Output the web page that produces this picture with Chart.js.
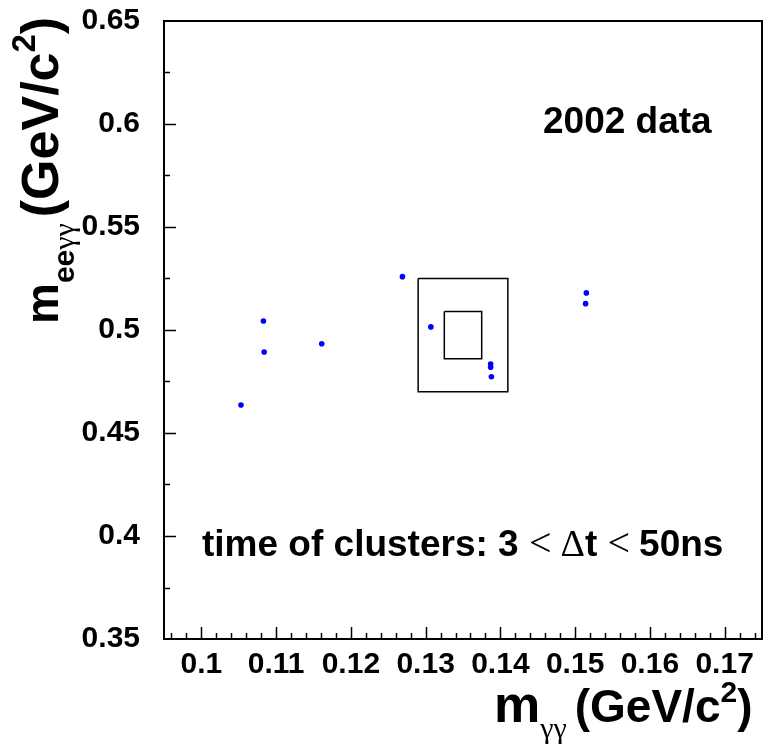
<!DOCTYPE html>
<html>
<head>
<meta charset="utf-8">
<script src="https://cdn.jsdelivr.net/npm/chart.js@4.4.0/dist/chart.umd.min.js"></script>
<style>
  html, body { margin: 0; padding: 0; background: #fff; }
</style>
</head>
<body>
<canvas id="chart" width="768" height="746"></canvas>
<script>
// Axis ticks and labels
const xTickValues = [0.10, 0.11, 0.12, 0.13, 0.14, 0.15, 0.16, 0.17];
const xTickLabels = ['0.1', '0.11', '0.12', '0.13', '0.14', '0.15', '0.16', '0.17'];
const yTickValues = [0.35, 0.40, 0.45, 0.50, 0.55, 0.60, 0.65];
const yTickLabels = ['0.35', '0.4', '0.45', '0.5', '0.55', '0.6', '0.65'];

// Candidates: m(gamma gamma) vs m(e e gamma gamma), GeV/c^2
const mGammaGamma = [0.1053, 0.1083, 0.1084, 0.1161, 0.1269, 0.1307, 0.1387, 0.1387, 0.1388, 0.1515, 0.1514];
const mEeGammaGamma = [0.4636, 0.5044, 0.4893, 0.4933, 0.5259, 0.5015, 0.4835, 0.4819, 0.4773, 0.5180, 0.5128];

// Signal box (inner) and sideband box (outer)
const outerBoxX = [0.129, 0.141, 0.141, 0.129, 0.129];
const outerBoxY = [0.525, 0.525, 0.470, 0.470, 0.525];
const innerBoxX = [0.1325, 0.1375, 0.1375, 0.1325, 0.1325];
const innerBoxY = [0.509, 0.509, 0.486, 0.486, 0.509];

const SANS = '"Liberation Sans", Arial, Helvetica, sans-serif';
const SYM = '"Liberation Serif", "Times New Roman", serif';

function zipXY(xs, ys) {
    return xs.map((x, i) => ({ x, y: ys[i] }));
}

// Draws a run of differently styled text pieces along one baseline
function drawRich(ctx, x, y, parts) {
    let cx = x;
    parts.forEach(p => {
        ctx.font = p.font;
        ctx.fillText(p.t, cx, y + (p.dy || 0));
        cx += ctx.measureText(p.t).width + (p.gap || 0);
    });
}

// ROOT-style frame, inward ticks and labels
const rootFrame = {
    id: 'rootFrame',
    afterDraw(chart) {
        const { ctx, chartArea: a, scales: { x, y } } = chart;
        ctx.save();
        ctx.strokeStyle = '#000';
        ctx.lineWidth = 2;
        ctx.strokeRect(a.left, a.top, a.right - a.left, a.bottom - a.top);

        ctx.lineWidth = 1.5;
        ctx.beginPath();
        for (let v = 0.096; v < x.max; v += 0.002) {
            const px = Math.round(x.getPixelForValue(v)) + 0.5;
            const major = Math.abs(v * 100 - Math.round(v * 100)) < 1e-6;
            ctx.moveTo(px, a.bottom);
            ctx.lineTo(px, a.bottom - (major ? 12 : 6));
        }
        for (let v = 0.375; v < y.max; v += 0.025) {
            const py = Math.round(y.getPixelForValue(v)) + 0.5;
            const major = Math.abs(v * 20 - Math.round(v * 20)) < 1e-6;
            ctx.moveTo(a.left, py);
            ctx.lineTo(a.left + (major ? 12 : 6), py);
        }
        ctx.stroke();

        ctx.fillStyle = '#000';
        ctx.textBaseline = 'alphabetic';
        ctx.textAlign = 'left';

        // x axis title
        drawRich(ctx, 494, 722, [
            { t: 'm', font: `bold 52px ${SANS}` },
            { t: 'γγ', font: `30px ${SYM}`, dy: 16, gap: 8 },
            { t: '(GeV/c', font: `bold 46px ${SANS}` },
            { t: '2', font: `bold 30px ${SANS}`, dy: -20 },
            { t: ')', font: `bold 46px ${SANS}` }
        ]);

        // y axis title
        ctx.save();
        ctx.translate(58, 324);
        ctx.rotate(-Math.PI / 2);
        drawRich(ctx, 0, 0, [
            { t: 'm', font: `bold 46px ${SANS}` },
            { t: 'ee', font: `bold 30px ${SANS}`, dy: 16 },
            { t: 'γγ', font: `30px ${SYM}`, dy: 16, gap: 6 },
            { t: '(GeV/c', font: `bold 52px ${SANS}` },
            { t: '2', font: `bold 33px ${SANS}`, dy: -23 },
            { t: ')', font: `bold 52px ${SANS}` }
        ]);
        ctx.restore();

        ctx.font = `bold 37px ${SANS}`;
        ctx.fillText('2002 data', 543, 133);

        drawRich(ctx, 202, 556, [
            { t: 'time of clusters: 3 ', font: `bold 37px ${SANS}` },
            { t: '<', font: `40px ${SYM}`, gap: 9 },
            { t: 'Δ', font: `38px ${SYM}` },
            { t: 't ', font: `bold 37px ${SANS}` },
            { t: '<', font: `40px ${SYM}`, gap: 9 },
            { t: '50ns', font: `bold 37px ${SANS}` }
        ]);
        ctx.restore();
    }
};

new Chart(document.getElementById('chart'), {
    type: 'scatter',
    data: {
        datasets: [
            {
                label: 'candidates',
                data: zipXY(mGammaGamma, mEeGammaGamma),
                backgroundColor: '#0000ff',
                borderWidth: 0,
                pointRadius: 2.8
            },
            {
                label: 'outer box',
                data: zipXY(outerBoxX, outerBoxY),
                showLine: true,
                borderColor: '#000',
                borderWidth: 1.5,
                pointRadius: 0,
                fill: false
            },
            {
                label: 'inner box',
                data: zipXY(innerBoxX, innerBoxY),
                showLine: true,
                borderColor: '#000',
                borderWidth: 1.5,
                pointRadius: 0,
                fill: false
            }
        ]
    },
    options: {
        responsive: false,
        devicePixelRatio: 1,
        animation: false,
        layout: { padding: { left: 0, top: 21, right: 6, bottom: 0 } },
        plugins: {
            legend: { display: false },
            tooltip: { enabled: false }
        },
        scales: {
            x: {
                type: 'linear',
                min: 0.095,
                max: 0.175,
                border: { display: false },
                grid: { display: false },
                afterBuildTicks: s => { s.ticks = xTickValues.map(v => ({ value: v })); },
                afterFit: s => {
                    s.height = 107;
                    s.paddingLeft = 0;
                    s.paddingRight = 0;
                },
                ticks: {
                    color: '#000',
                    padding: 0,
                    maxRotation: 0,
                    autoSkip: false,
                    font: { family: SANS, size: 30, weight: 'bold' },
                    callback: (v, i) => xTickLabels[i]
                }
            },
            y: {
                type: 'linear',
                min: 0.35,
                max: 0.65,
                border: { display: false },
                grid: { display: false },
                afterBuildTicks: s => { s.ticks = yTickValues.map(v => ({ value: v })); },
                afterFit: s => {
                    s.width = 164;
                    s.paddingTop = 0;
                    s.paddingBottom = 0;
                },
                ticks: {
                    color: '#000',
                    padding: 16,
                    autoSkip: false,
                    font: { family: SANS, size: 30, weight: 'bold' },
                    callback: (v, i) => yTickLabels[i]
                }
            }
        }
    },
    plugins: [rootFrame]
});
</script>
</body>
</html>
